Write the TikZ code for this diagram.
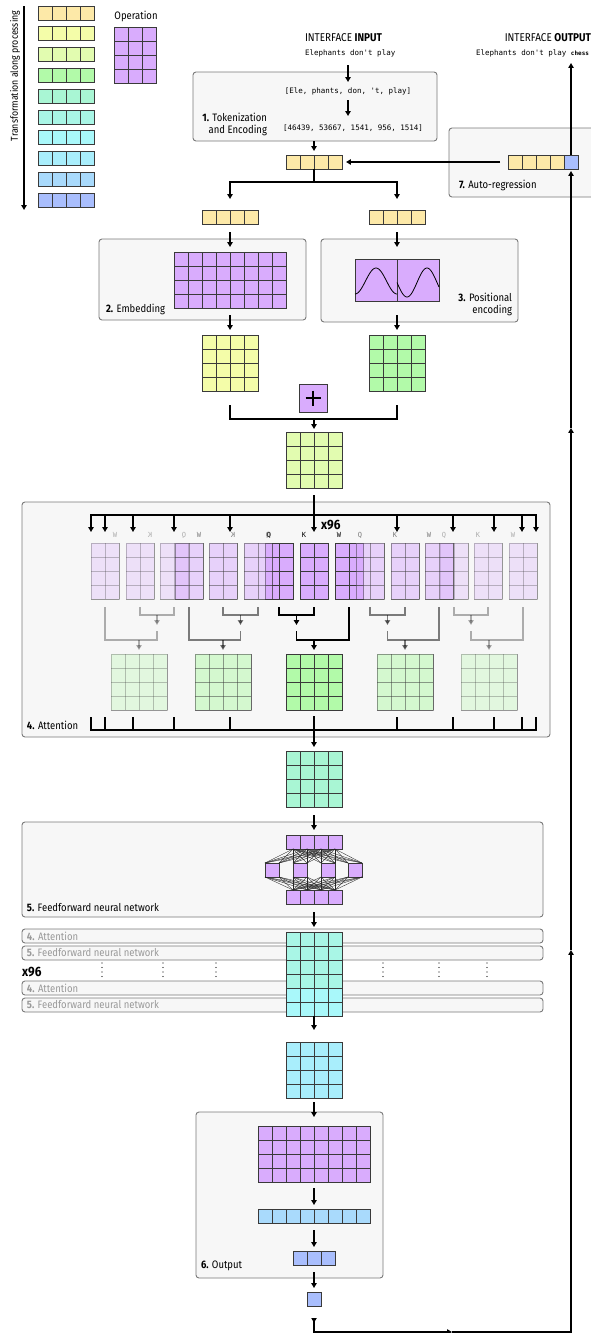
\documentclass[tikz,border=0pt]{standalone}
\usepackage{fontspec}
\usepackage{graphicx}
\setmainfont{Fira Sans}[FakeStretch=0.88]
\setmonofont{DejaVu Sans Mono}
\usetikzlibrary{arrows.meta,calc}

\definecolor{panelfill}{HTML}{F7F7F7}
\definecolor{panelline}{HTML}{7A7A7A}
\definecolor{gridline}{HTML}{3A3A3A}
\definecolor{dimtext}{HTML}{999999}
\definecolor{cA}{HTML}{FDE9A8}
\definecolor{cB}{HTML}{F4FDA9}
\definecolor{cC}{HTML}{E2FCB0}
\definecolor{cD}{HTML}{B2FAA9}
\definecolor{cE}{HTML}{A9F6D4}
\definecolor{cF}{HTML}{A9F6E6}
\definecolor{cG}{HTML}{A9F8FA}
\definecolor{cH}{HTML}{A9EEFC}
\definecolor{cI}{HTML}{A9DAFC}
\definecolor{cJ}{HTML}{A9BEFD}
\definecolor{cP}{HTML}{D9ACFD}

\tikzset{
  panel/.style={draw=panelline, fill=panelfill, line width=0.9pt, rounded corners=3pt, inner sep=0pt, outer sep=0pt},
  gridbox/.style={draw=gridline, line width=0.9pt, inner sep=0pt, outer sep=0pt},
  gridrule/.style={draw=gridline, line width=0.9pt},
  flow/.style={draw=black, line width=1.2pt, ->},
  wire/.style={draw=black, line width=1.2pt},
  meshline/.style={draw=black!85, line width=0.35pt},
  lbl/.style={font=\fontsize{10.8}{12}\selectfont, inner sep=0pt, outer sep=0pt},
  dimlbl/.style={lbl, text=dimtext},
  codetxt/.style={font=\ttfamily\fontsize{7.5}{9}\selectfont, inner sep=0pt, outer sep=0pt, text height=5.5pt, text depth=1.5pt},
  headlbl/.style={font=\ttfamily\fontsize{7}{8}\selectfont, inner sep=0pt},
  repcount/.style={font=\bfseries\fontsize{13.5}{14}\selectfont, inner sep=0pt},
}

% a block of cells: name, left x, top y, columns, rows, fill colour
\newcommand\cellgrid[6]{%
  \node[gridbox, fill=#6, anchor=north west, minimum width={#4*14pt}, minimum height={#5*14pt}] (#1) at (#2,#3) {};
  \foreach \gi in {1,...,#4}{\draw[gridrule] ($(#1.north west)+(\gi*14,0)$) -- ++(0,#5*14);}
  \foreach \gj in {1,...,#5}{\draw[gridrule] ($(#1.north west)+(0,\gj*14)$) -- ++(#4*14,0);}
}
% a rounded grey panel: name, x1, y1, x2, y2
\newcommand\panelbox[5]{%
  \node[panel, anchor=north west, minimum width={(#4-#2)*1pt}, minimum height={(#5-#3)*1pt}] (#1) at (#2,#3) {};
}
% one attention head, Q K W from left to right
\newcommand\headfwd[4]{%
  \cellgrid{#1Q}{#2}{543}{2}{4}{cP}
  \cellgrid{#1K}{#3}{543}{2}{4}{cP}
  \cellgrid{#1W}{#4}{543}{2}{4}{cP}
  \node[headlbl] at ($(#1Q.north west)+(4,-8)$) {Q};
  \node[headlbl] at ($(#1K.north west)+(4,-8)$) {K};
  \node[headlbl] at ($(#1W.north west)+(4,-8)$) {W};
}
% one attention head, mirrored
\newcommand\headrev[4]{%
  \cellgrid{#1Q}{#2}{543}{2}{4}{cP}
  \cellgrid{#1K}{#3}{543}{2}{4}{cP}
  \cellgrid{#1W}{#4}{543}{2}{4}{cP}
  \node[headlbl] at ($(#1Q.north east)+(-4,-8)$) {\reflectbox{Q}};
  \node[headlbl] at ($(#1K.north east)+(-4,-8)$) {\reflectbox{K}};
  \node[headlbl] at ($(#1W.north east)+(-4,-8)$) {\reflectbox{W}};
}
% Q-K bracket, then join with W, then into the head output
\newcommand\headwires[1]{%
  \draw[wire] ($(#1Q.south)+(0,8)$) -- ($(#1Q.south)+(0,16)$) -- ($(#1K.south)+(0,16)$) -- ($(#1K.south)+(0,8)$);
  \coordinate (#1m) at ($(#1Q.south)!0.5!(#1K.south)+(0,16)$);
  \coordinate (#1j) at ($(#1m)+(0,25)$);
  \draw[flow] (#1m) -- ($(#1m)+(0,10)$);
  \draw[wire] ($(#1m)+(0,16)$) -- (#1j) -- (#1j -| #1W.south) -- ($(#1W.south)+(0,8)$);
  \draw[flow, shorten >=4pt] (#1j -| #1O.north) -- (#1O.north);
}

\begin{document}
\begin{tikzpicture}[x=1pt, y=-1pt, >={Triangle[length=4.8pt,width=5.2pt]}]
\useasboundingbox (0,0) rectangle (591,1333);
\fill[white] (0,0) rectangle (591,1333);

% ---------- legend ----------
\node[lbl, rotate=90, font=\fontsize{10}{12}\selectfont] (legtxt) at (15,76) {Transformation along processing};
\coordinate (legtop) at (24,6);
\coordinate (legbot) at (24,210);
\draw[flow] (legtop) -- (legbot);
\foreach \i/\c in {0/cA,1/cB,2/cC,3/cD,4/cE,5/cF,6/cG,7/cH,8/cI,9/cJ}{
  \cellgrid{leg\i}{38}{6+20.8*\i}{4}{1}{\c}
}
\node[lbl] (oplbl) at (136,16) {Operation};
\cellgrid{opmat}{114}{27}{3}{4}{cP}

% ---------- 1. tokenization ----------
\node[lbl, anchor=west, font=\fontsize{11.3}{12}\selectfont] (inlbl) at (305,38) {INTERFACE \textbf{INPUT}};
\node[codetxt, anchor=west] (intext) at (305,53) {Elephants don't play};
\panelbox{tokbox}{193}{72}{437}{141}
\node[codetxt] (toks) at (348,91) {[Ele, phants, don, 't, play]};
\node[codetxt] (ids) at (353,128) {[46439, 53667, 1541, 956, 1514]};
\node[lbl, anchor=east, align=right] (toklbl) at (267,124) {\textbf{1.} Tokenization\\and Encoding};
\draw[flow, shorten <=8.5pt, shorten >=5.5pt] (intext.south -| toks.north) -- (toks.north);
\draw[flow, shorten <=5.5pt, shorten >=8.5pt] (toks.south) -- (toks.south |- ids.north);
\cellgrid{tokbar}{286}{155}{4}{1}{cA}
\draw[flow, shorten >=4pt] (tokbox.south -| tokbar.north) -- (tokbar.north);

% ---------- 7. auto-regression ----------
\panelbox{arbox}{449}{128}{605}{197}
\cellgrid{arold}{508}{155}{4}{1}{cA}
\cellgrid{arnew}{564}{155}{1}{1}{cJ}
\node[lbl, anchor=west] (arlbl) at (459,185) {\textbf{7.} Auto-regression};
\draw[flow, shorten <=8pt, shorten >=4pt] (arold.west) -- (tokbar.east);
\node[lbl, anchor=east, font=\fontsize{11.3}{12}\selectfont] (outlbl) at (591,38) {INTERFACE \textbf{OUTPUT}};
\node[codetxt, anchor=east] (outtext) at (589,53) {Elephants don't play {\bfseries\fontsize{6}{7}\selectfont chess}};
\draw[flow, shorten >=6.5pt] (arnew.north) -- (arnew.north |- outtext.south);

% ---------- split into embedding / positional ----------
\coordinate (split) at (314,182);
\cellgrid{embin}{202}{210}{4}{1}{cA}
\cellgrid{posin}{369}{210}{4}{1}{cA}
\draw[wire] (tokbar.south) -- (split);
\draw[flow, shorten >=11pt] (split) -| (embin.north);
\draw[flow, shorten >=11pt] (split) -| (posin.north);

% ---------- 2. embedding ----------
\panelbox{embbox}{99}{239}{306}{320}
\cellgrid{embmat}{174}{252}{8}{4}{cP}
\node[lbl, anchor=west] (emblbl) at (106,309) {\textbf{2.} Embedding};
\draw[flow, shorten <=8pt, shorten >=5pt] (embin.south) -- (embmat.north);

% ---------- 3. positional encoding ----------
\panelbox{posbox}{321}{239}{518}{322}
\node[gridbox, fill=cP, anchor=north west, minimum width=84pt, minimum height=42pt] (posmat) at (355,259) {};
\draw[gridrule] (posmat.north) -- (posmat.south);
\draw[line width=0.8pt] plot[domain=355:397, samples=50, smooth] (\x, {281+13*cos(360*(\x-355)/42)});
\draw[line width=0.8pt] plot[domain=397:439, samples=50, smooth] (\x, {282.5-14.5*sin(360*(\x-417)/40)});
\node[lbl, anchor=east, align=right] (poslbl) at (512,304) {\textbf{3.} Positional\\encoding};
\draw[flow, shorten <=8pt, shorten >=12pt] (posin.south) -- (posmat.north);

\cellgrid{embout}{202}{335}{4}{4}{cB}
\cellgrid{posout}{369}{335}{4}{4}{cD}
\draw[flow, shorten <=7pt, shorten >=5pt] (embmat.south) -- (embout.north);
\draw[flow, shorten <=14pt, shorten >=5pt] (posmat.south) -- (posout.north);

% ---------- sum ----------
\node[gridbox, fill=cP, minimum width=28pt, minimum height=28pt] (plus) at (313,398) {};
\draw[line width=2.4pt] ($(plus.center)+(-7.5,0)$) -- ($(plus.center)+(7.5,0)$);
\draw[line width=2.4pt] ($(plus.center)+(0,-7.5)$) -- ($(plus.center)+(0,7.5)$);
\cellgrid{sum}{286}{432}{4}{4}{cC}
\coordinate (merge) at (314,419);
\draw[wire, shorten <=14pt] (embout.south) |- (merge);
\draw[wire, shorten <=14pt] (posout.south) |- (merge);
\draw[flow, shorten >=3pt] (merge) -- (sum.north);

% ---------- 4. attention ----------
\panelbox{attnbox}{22}{502}{550}{737}
\headfwd{c}{265}{300}{335}
\cellgrid{cO}{286}{654}{4}{4}{cD}
\headwires{c}
\begin{scope}[opacity=0.3]
  \headrev{la}{160}{126}{91}
  \cellgrid{laO}{111}{654}{4}{4}{cD}
  \headwires{la}
  \headfwd{rb}{440}{474}{509}
  \cellgrid{rbO}{461}{654}{4}{4}{cD}
  \headwires{rb}
\end{scope}
\begin{scope}[opacity=0.5]
  \headrev{lb}{244}{209}{175}
  \cellgrid{lbO}{195}{654}{4}{4}{cD}
  \headwires{lb}
  \headfwd{ra}{356}{391}{425}
  \cellgrid{raO}{377}{654}{4}{4}{cD}
  \headwires{ra}
\end{scope}
\draw[wire, line cap=rect] (91,515) -- (536,515);
\foreach \x in {91,105,133,174,230,397,453,494,522,536}{\draw[flow] (\x,515) -- (\x,532);}
\draw[flow, shorten <=7pt, shorten >=11pt] (sum.south) -- (cK.north);
\node[repcount, anchor=west] (heads) at (321,525) {x96};
\draw[wire] (91,717) -- (91,730) -- (536,730) -- (536,717);
\foreach \x in {105,133,174,230,397,453,494,522}{\draw[wire] (\x,717) -- (\x,730);}
\node[lbl, anchor=west] (attnlbl) at (27,725) {\textbf{4.} Attention};
\cellgrid{mint}{286}{751}{4}{4}{cE}
\draw[flow, shorten <=6pt, shorten >=4pt] (cO.south) -- (mint.north);

% ---------- 5. feedforward ----------
\panelbox{ffnbox}{22}{822}{543}{917}
\foreach \i in {1,...,4}{
  \cellgrid{ft\i}{272+14*\i}{835}{1}{1}{cP}
  \cellgrid{fb\i}{272+14*\i}{890}{1}{1}{cP}
}
\cellgrid{fm1}{265}{863}{1}{1}{cP}
\cellgrid{fm2}{293}{863}{1}{1}{cP}
\cellgrid{fm3}{321}{863}{1}{1}{cP}
\cellgrid{fm4}{348}{863}{1}{1}{cP}
\foreach \a in {1,...,4}{\foreach \b in {1,...,4}{
  \draw[meshline] (ft\a.south) -- (fm\b.north west);
  \draw[meshline] (ft\a.south) -- (fm\b.north east);
  \draw[meshline] (fb\a.north) -- (fm\b.south west);
  \draw[meshline] (fb\a.north) -- (fm\b.south east);
}}
\draw[flow, shorten <=8pt, shorten >=5pt] (mint.south) -- (mint.south |- ft1.north);
\node[lbl, anchor=west] (ffnlbl) at (27,908) {\textbf{5.} Feedforward neural network};

% ---------- repeated layers ----------
\panelbox{sb1}{22}{929}{543}{943}
\panelbox{sb2}{22}{946}{543}{960}
\panelbox{sb3}{22}{981}{543}{995}
\panelbox{sb4}{22}{998}{543}{1012}
\node[dimlbl, anchor=west] at ([xshift=5pt]sb1.west) {\textbf{4.} Attention};
\node[dimlbl, anchor=west] at ([xshift=5pt]sb2.west) {\textbf{5.} Feedforward neural network};
\node[dimlbl, anchor=west] at ([xshift=5pt]sb3.west) {\textbf{4.} Attention};
\node[dimlbl, anchor=west] at ([xshift=5pt]sb4.west) {\textbf{5.} Feedforward neural network};
\node[repcount, anchor=west] (reps) at (22,972) {x96};
\foreach \x in {102,163,216,383,439,487}{
  \draw[line width=1.3pt, line cap=round, dash pattern=on 0pt off 4.5pt] (\x,963) -- (\x,980);
}
\cellgrid{stackA}{286}{932}{4}{4}{cF}
\cellgrid{stackB}{286}{988}{4}{2}{cG}
\draw[flow, shorten <=8pt, shorten >=5pt] (fb1.south -| mint.south) -- (stackA.north);
\cellgrid{cyan}{286}{1042}{4}{4}{cH}
\draw[flow, shorten >=12pt] (stackB.south) -- (cyan.north);

% ---------- 6. output ----------
\panelbox{outbox}{196}{1112}{383}{1278}
\cellgrid{outmat}{258}{1126}{8}{4}{cP}
\cellgrid{outvec}{258}{1209}{8}{1}{cI}
\cellgrid{outtok}{293}{1251}{3}{1}{cJ}
\node[lbl, anchor=west] (outname) at (201,1266) {\textbf{6.} Output};
\cellgrid{nexttok}{307}{1292}{1}{1}{cJ}
\draw[flow, shorten <=4pt, shorten >=9pt] (cyan.south) -- (outmat.north);
\draw[flow, shorten <=6pt, shorten >=4pt] (outmat.south) -- (outvec.north);
\draw[flow, shorten <=7pt, shorten >=4pt] (outvec.south) -- (outtok.north);
\draw[flow, shorten <=7pt, shorten >=4pt] (outtok.south) -- (nexttok.north);

% ---------- feedback loop ----------
\coordinate (retA) at (452,1332);
\coordinate (retB) at (571,1332);
\coordinate (retC) at (571,950);
\coordinate (retD) at (571,428);
\draw[line width=1.2pt, {Triangle[reversed,length=4.8pt,width=5.2pt]}->, shorten <=12pt] (nexttok.south) |- (retA);
\draw[flow] (retA) -- (retB) -- (retC);
\draw[flow] (retC) -- (retD);
\draw[flow, shorten >=2pt] (retD) -- (arnew.south);
\end{tikzpicture}
\end{document}
